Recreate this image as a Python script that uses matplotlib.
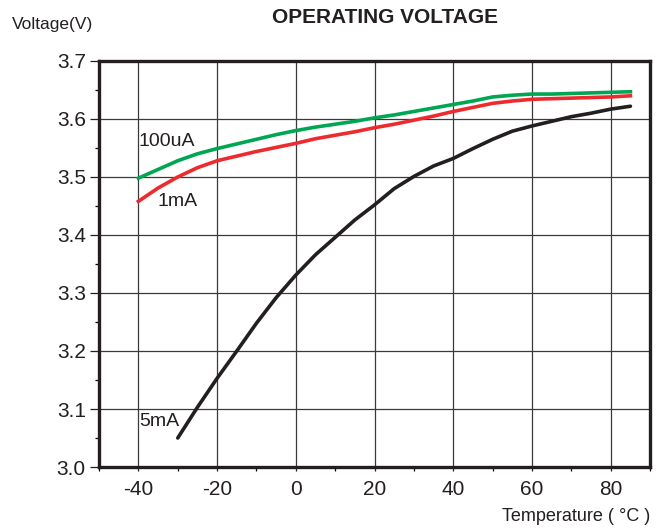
import matplotlib
matplotlib.use("Agg")
import matplotlib.pyplot as plt
from matplotlib.ticker import MultipleLocator

plt.rcParams['font.family'] = ['Liberation Sans', 'DejaVu Sans']
plt.rcParams['axes.unicode_minus'] = False

# temperature (C) / voltage (V)
temp_100ua = [-40, -35, -30, -25, -20, -15, -10, -5, 0, 5, 10, 15, 20, 25, 30, 35,
              40, 45, 50, 55, 60, 65, 70, 75, 80, 85]
volt_100ua = [3.498, 3.513, 3.528, 3.540, 3.549, 3.557, 3.565, 3.573, 3.580, 3.586,
              3.591, 3.596, 3.602, 3.607, 3.613, 3.619, 3.625, 3.631, 3.638, 3.641,
              3.643, 3.643, 3.644, 3.645, 3.646, 3.647]

temp_1ma = [-40, -35, -30, -25, -20, -15, -10, -5, 0, 5, 10, 15, 20, 25, 30, 35,
            40, 45, 50, 55, 60, 65, 70, 75, 80, 85]
volt_1ma = [3.458, 3.481, 3.500, 3.516, 3.528, 3.536, 3.544, 3.551, 3.558, 3.566,
            3.572, 3.578, 3.585, 3.591, 3.598, 3.605, 3.613, 3.620, 3.627, 3.631,
            3.634, 3.635, 3.636, 3.637, 3.638, 3.640]

temp_5ma = [-30, -25, -20, -15, -10, -5, 0, 5, 10, 15, 20, 25, 30, 35,
            40, 45, 50, 55, 60, 65, 70, 75, 80, 85]
volt_5ma = [3.050, 3.103, 3.153, 3.200, 3.248, 3.292, 3.331, 3.366, 3.396, 3.426,
            3.452, 3.480, 3.501, 3.519, 3.532, 3.549, 3.565, 3.579, 3.588, 3.596,
            3.604, 3.610, 3.617, 3.622]

fig = plt.figure(figsize=(6.58, 5.29), dpi=100)
ax = fig.add_axes([0.1505, 0.1172, 0.8375, 0.7675])

ax.plot(temp_5ma, volt_5ma, color='#231f20', lw=2.6, solid_capstyle='round',
        solid_joinstyle='round', zorder=3)
ax.plot(temp_1ma, volt_1ma, color='#ed2a2e', lw=2.6, solid_joinstyle='round', zorder=3)
ax.plot(temp_100ua, volt_100ua, color='#00a651', lw=2.6, solid_joinstyle='round', zorder=4)

ax.text(-40, 3.562, '100uA', fontsize=14, va='center', ha='left', color='#231f20')
ax.text(-35.2, 3.457, '1mA', fontsize=14, va='center', ha='left', color='#231f20')
ax.text(-39.9, 3.078, '5mA', fontsize=14, va='center', ha='left', color='#231f20')

ax.set_xlim(-50, 90)
ax.set_ylim(3.0, 3.7)
ax.set_xticks([-40, -20, 0, 20, 40, 60, 80])
ax.xaxis.set_minor_locator(MultipleLocator(10))
ax.set_yticks([3.0, 3.1, 3.2, 3.3, 3.4, 3.5, 3.6, 3.7])
ax.set_yticklabels(['3.0', '3.1', '3.2', '3.3', '3.4', '3.5', '3.6', '3.7'])
ax.yaxis.set_minor_locator(MultipleLocator(0.05))

ax.grid(True, which='major', color='#3a3a3a', lw=0.9)
ax.set_axisbelow(True)

for s in ax.spines.values():
    s.set_linewidth(2.4)
    s.set_color('#231f20')

ax.tick_params(axis='y', which='major', length=6.5, width=0.9, pad=3, labelsize=15, colors='#231f20')
ax.tick_params(axis='y', which='minor', length=3, width=0.9)
ax.tick_params(axis='x', which='both', length=3, width=0.9)
ax.tick_params(axis='x', which='major', pad=6.5, labelsize=15, colors='#231f20')

fig.text(0.585, 0.966, 'OPERATING VOLTAGE', fontsize=15, fontweight='bold',
         ha='center', va='center', color='#231f20')
fig.text(0.018, 0.953, 'Voltage(V)', fontsize=12.5, ha='left', va='center', color='#231f20')
fig.text(0.988, 0.023, 'Temperature ( °C )', fontsize=13, ha='right', va='center', color='#231f20')

fig.savefig('out.png', dpi=100)
